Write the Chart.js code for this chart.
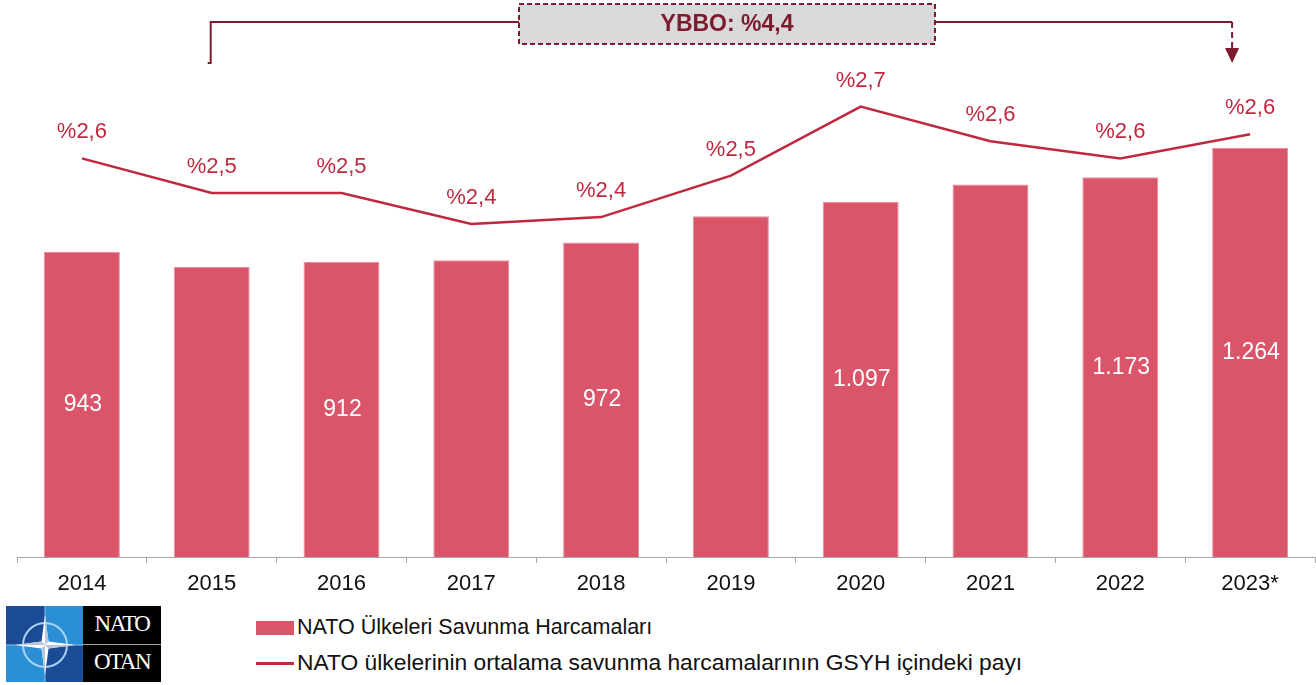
<!DOCTYPE html>
<html lang="tr">
<head>
    <meta charset="UTF-8">
    <title>NATO Savunma Harcamaları</title>
    <script src="https://cdn.jsdelivr.net/npm/chart.js"></script>
    <style>
        body {
            margin: 0;
            padding: 0;
            background: #ffffff;
            font-family: 'Liberation Sans', Arial, sans-serif;
        }
        .wrap {
            position: relative;
            width: 1316px;
            height: 685px;
            overflow: hidden;
        }
        #chartBox {
            position: absolute;
            left: 0;
            top: 0;
            width: 1316px;
            height: 600px;
        }
        .legend-item {
            position: absolute;
            left: 256px;
            font-size: 21.5px;
            color: #111;
            white-space: nowrap;
            line-height: 24px;
        }
        .legend-item .swatch {
            display: inline-block;
            width: 38px;
            vertical-align: middle;
            margin-right: 3px;
        }
        .logo {
            position: absolute;
            left: 6px;
            top: 606px;
            width: 155px;
            height: 76px;
        }
        .logo canvas { position: absolute; left: 0; top: 0; }
        .logo .dark {
            position: absolute;
            left: 77px;
            top: 0;
            width: 78px;
            height: 76px;
            background: #000;
            color: #fff;
            font-family: 'Liberation Serif', 'DejaVu Serif', serif;
            font-size: 23px;
            text-align: center;
        }
        .logo .dark span { position: absolute; left: 0; width: 100%; letter-spacing: -1.5px; }
        .logo .dark .sep {
            position: absolute;
            left: 0;
            top: 38px;
            width: 100%;
            height: 1px;
            background: #9a9a9a;
        }
    </style>
</head>
<body>
<div class="wrap">
    <div id="chartBox"><canvas id="chart" width="1316" height="600"></canvas></div>

    <div class="logo">
        <canvas id="logoStar" width="77" height="76"></canvas>
        <div class="dark">
            <span style="top:5px">NATO</span>
            <div class="sep"></div>
            <span style="top:43px">OTAN</span>
        </div>
    </div>

    <div class="legend-item" style="top:615px">
        <span class="swatch" style="height:14px;background:#da546a"></span>NATO Ülkeleri Savunma Harcamaları
    </div>
    <div class="legend-item" style="top:650px;font-size:22.8px">
        <span class="swatch" style="height:3px;background:#c0283f"></span>NATO ülkelerinin ortalama savunma harcamalarının GSYH içindeki payı
    </div>
</div>

<script>
    // data
    const years = ['2014', '2015', '2016', '2017', '2018', '2019', '2020', '2021', '2022', '2023*'];
    const spending = [943, 896, 912, 917, 972, 1053, 1097, 1151, 1173, 1264];
    const spendingLabels = ['943', '', '912', '', '972', '', '1.097', '', '1.173', '1.264'];
    const gdpShare = [2.60, 2.50, 2.50, 2.41, 2.43, 2.55, 2.75, 2.65, 2.60, 2.67];
    const gdpShareLabels = ['%2,6', '%2,5', '%2,5', '%2,4', '%2,4', '%2,5', '%2,7', '%2,6', '%2,6', '%2,6'];
    const cagrText = 'YBBO: %4,4';

    const barColor = '#da546a';
    const lineColor = '#c0283f';
    const noteColor = '#7e1a2e';
    const fontFamily = "'Liberation Sans', Arial, sans-serif";

    // value labels: white inside bars, red above the line points
    const valueLabels = {
        id: 'valueLabels',
        afterDatasetsDraw(chart) {
            const ctx = chart.ctx;
            ctx.save();
            ctx.textAlign = 'center';
            ctx.textBaseline = 'middle';

            ctx.font = '23px ' + fontFamily;
            ctx.fillStyle = '#ffffff';
            chart.getDatasetMeta(1).data.forEach((bar, i) => {
                if (!spendingLabels[i]) return;
                const p = bar.getProps(['x', 'y', 'base'], true);
                ctx.fillText(spendingLabels[i], p.x + 1, (p.y + p.base) / 2);
            });

            ctx.font = '22px ' + fontFamily;
            ctx.fillStyle = lineColor;
            chart.getDatasetMeta(0).data.forEach((pt, i) => {
                const p = pt.getProps(['x', 'y'], true);
                ctx.fillText(gdpShareLabels[i], p.x, p.y - 26);
            });
            ctx.restore();
        }
    };

    // bracket with CAGR box from 2015 to 2023
    const cagrNote = {
        id: 'cagrNote',
        afterDraw(chart) {
            const ctx = chart.ctx;
            const xs = chart.scales.x;
            const x1 = xs.getPixelForValue(1) - 1;
            const x2 = xs.getPixelForValue(9) - 18;
            const yTop = 22;
            ctx.save();
            ctx.strokeStyle = noteColor;
            ctx.fillStyle = noteColor;
            ctx.lineWidth = 2;

            ctx.beginPath();
            ctx.moveTo(x1 - 3, 63);
            ctx.lineTo(x1, 63);
            ctx.lineTo(x1, yTop);
            ctx.lineTo(x2, yTop);
            ctx.stroke();

            ctx.setLineDash([6, 4]);
            ctx.beginPath();
            ctx.moveTo(x2, yTop);
            ctx.lineTo(x2, 50);
            ctx.stroke();
            ctx.setLineDash([]);

            ctx.beginPath();
            ctx.moveTo(x2 - 7, 48);
            ctx.lineTo(x2 + 7, 48);
            ctx.lineTo(x2, 63);
            ctx.closePath();
            ctx.fill();

            // box
            const bx = 519, by = 4, bw = 416, bh = 40;
            ctx.fillStyle = '#d9d9d9';
            ctx.fillRect(bx, by, bw, bh);
            ctx.setLineDash([5, 3]);
            ctx.strokeRect(bx, by, bw, bh);
            ctx.setLineDash([]);

            ctx.fillStyle = noteColor;
            ctx.font = 'bold 23px ' + fontFamily;
            ctx.textAlign = 'center';
            ctx.textBaseline = 'middle';
            ctx.fillText(cagrText, bx + bw / 2, by + bh / 2 + 1);
            ctx.restore();
        }
    };

    new Chart(document.getElementById('chart'), {
        data: {
            labels: years,
            datasets: [
                {
                    type: 'line',
                    label: 'NATO ülkelerinin ortalama savunma harcamalarının GSYH içindeki payı',
                    data: gdpShare,
                    yAxisID: 'yShare',
                    borderColor: lineColor,
                    borderWidth: 2.5,
                    pointRadius: 0,
                    tension: 0,
                    order: 0
                },
                {
                    type: 'bar',
                    label: 'NATO Ülkeleri Savunma Harcamaları',
                    data: spending,
                    yAxisID: 'ySpend',
                    backgroundColor: barColor,
                    borderColor: '#e98c9b',
                    borderWidth: 1,
                    barPercentage: 0.585,
                    categoryPercentage: 1,
                    order: 1
                }
            ]
        },
        options: {
            responsive: false,
            animation: false,
            layout: { padding: { left: 17, right: 1, top: 0, bottom: 0 } },
            plugins: {
                legend: { display: false },
                tooltip: { enabled: false }
            },
            scales: {
                x: {
                    afterFit: s => { s.height = 43; },
                    grid: {
                        display: true,
                        drawOnChartArea: false,
                        tickLength: 6,
                        color: '#a6a6a6'
                    },
                    border: { color: '#a6a6a6', width: 1 },
                    ticks: {
                        color: '#111111',
                        padding: 8,
                        font: { family: fontFamily, size: 22 }
                    }
                },
                ySpend: {
                    display: false,
                    min: 0,
                    max: 1721
                },
                yShare: {
                    display: false,
                    min: 1.445,
                    max: 3.059
                }
            }
        },
        plugins: [valueLabels, cagrNote]
    });

    // NATO emblem, left half of the logo
    (function drawStar() {
        const c = document.getElementById('logoStar').getContext('2d');
        const cx = 39, cy = 39;
        c.fillStyle = '#1b4b95';
        c.fillRect(0, 0, 77, 76);
        c.fillStyle = '#2b8fd6';
        c.fillRect(cx, 0, 77 - cx, cy);
        c.fillRect(0, cy, cx, 76 - cy);
        c.strokeStyle = '#8cc4ee';
        c.lineWidth = 1;
        c.beginPath();
        c.moveTo(cx, 0); c.lineTo(cx, 76);
        c.moveTo(0, cy); c.lineTo(77, cy);
        c.stroke();
        c.lineWidth = 2;
        c.strokeStyle = '#a9d3f2';
        c.beginPath();
        c.arc(cx, cy, 22, 0, Math.PI * 2);
        c.stroke();
        c.fillStyle = '#ffffff';
        c.beginPath();
        const outer = 30, inner = 5;
        for (let k = 0; k < 8; k++) {
            const a = -Math.PI / 2 + k * Math.PI / 4;
            const r = k % 2 === 0 ? outer : inner;
            c.lineTo(cx + r * Math.cos(a), cy + r * Math.sin(a));
        }
        c.closePath();
        c.fill();
        c.fillStyle = '#b9c7d8';
        c.beginPath();
        c.moveTo(cx, cy); c.lineTo(cx, cy - outer); c.lineTo(cx + inner * 0.7, cy - inner * 0.7);
        c.moveTo(cx, cy); c.lineTo(cx + outer, cy); c.lineTo(cx + inner * 0.7, cy + inner * 0.7);
        c.moveTo(cx, cy); c.lineTo(cx, cy + outer); c.lineTo(cx - inner * 0.7, cy + inner * 0.7);
        c.moveTo(cx, cy); c.lineTo(cx - outer, cy); c.lineTo(cx - inner * 0.7, cy - inner * 0.7);
        c.fill();
    })();
</script>
</body>
</html>
